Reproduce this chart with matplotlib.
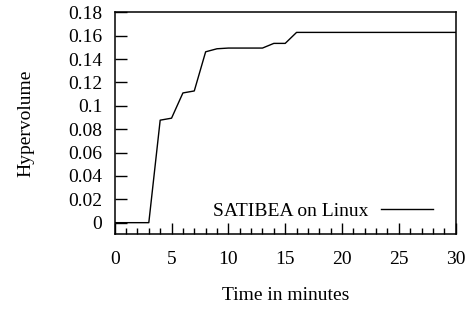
import matplotlib
matplotlib.use('Agg')
from matplotlib import pyplot as plt
from matplotlib.ticker import MultipleLocator

# Hypervolume over time, one sample per minute
minutes = list(range(0, 31))
hypervolume = [0.0, 0.0, 0.0, 0.0, 0.0877, 0.0894, 0.111, 0.1127, 0.1462, 0.1488,
               0.1494, 0.1494, 0.1494, 0.1494, 0.1534, 0.1534,
               0.1628, 0.1628, 0.1628, 0.1628, 0.1628, 0.1628, 0.1628, 0.1628,
               0.1628, 0.1628, 0.1628, 0.1628, 0.1628, 0.1628, 0.1628]
series_name = 'SATIBEA on Linux'
yticks = [0, 0.02, 0.04, 0.06, 0.08, 0.1, 0.12, 0.14, 0.16, 0.18]
ytick_labels = ['0', '0.02', '0.04', '0.06', '0.08', '0.1', '0.12', '0.14', '0.16', '0.18']
xticks = [0, 5, 10, 15, 20, 25, 30]

plt.rcParams['font.family'] = ['Liberation Serif', 'DejaVu Serif']
plt.rcParams['font.size'] = 14

fig = plt.figure(figsize=(4.69, 3.09), dpi=100)
ax = fig.add_axes([0.2446, 0.2427, 0.727, 0.7175])

ax.plot(minutes, hypervolume, color='black', lw=1.0, label=series_name)

ax.set_xlim(0, 30)
ax.set_ylim(-0.0097, 0.18)
ax.set_xticks(xticks)
ax.xaxis.set_minor_locator(MultipleLocator(1))
ax.set_yticks(yticks)
ax.set_yticklabels(ytick_labels)

ax.tick_params(axis='both', which='both', direction='in', width=1.0, color='black')
ax.tick_params(axis='y', which='major', length=8.5, pad=9)
ax.tick_params(axis='x', which='major', length=8, pad=12)
ax.tick_params(axis='x', which='minor', length=4.5)
for s in ax.spines.values():
    s.set_linewidth(1.1)

ax.set_xlabel('Time in minutes', labelpad=14)
ax.set_ylabel('Hypervolume', labelpad=24)

ax.legend(loc='center right', bbox_to_anchor=(0.933, 0.104), frameon=False,
          markerfirst=False, handlelength=2.67, handletextpad=0.67,
          borderpad=0, borderaxespad=0)

plt.savefig('out.png', dpi=100)
